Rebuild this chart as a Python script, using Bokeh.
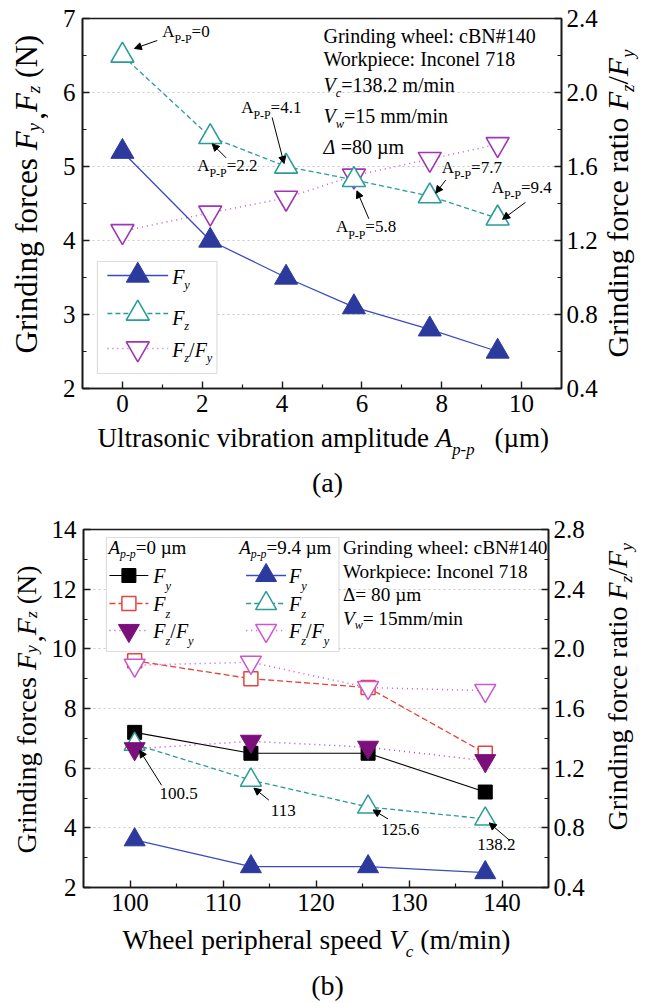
import math

from bokeh.embed import file_html
from bokeh.layouts import column, row
from bokeh.models import (Arrow, BoxAnnotation, FixedTicker, Label, LinearAxis,
                          NormalHead, NumeralTickFormatter, Range1d)
from bokeh.plotting import figure
from bokeh.resources import INLINE

# ---------------- panel (a): force vs. vibration amplitude ----------------
amp = [0, 2.2, 4.1, 5.8, 7.7, 9.4]
fy_a = [5.2, 4.0, 3.5, 3.1, 2.8, 2.5]
fz_a = [6.5, 5.4, 5.0, 4.82, 4.6, 4.3]
ratio_a = [1.25, 1.35, 1.43, 1.55, 1.64, 1.72]
amp_labels = ["0", "2.2", "4.1", "5.8", "7.7", "9.4"]

# ---------------- panel (b): force vs. wheel speed ----------------
vc = [100.5, 113, 125.6, 138.2]
fy_b0 = [7.2, 6.5, 6.5, 5.2]
fz_b0 = [9.6, 9.0, 8.7, 6.5]
ratio_b0 = [1.33, 1.38, 1.34, 1.25]
fy_b9 = [3.6, 2.7, 2.7, 2.5]
fz_b9 = [6.8, 5.6, 4.7, 4.3]
ratio_b9 = [1.89, 1.91, 1.74, 1.72]
vc_labels = ["100.5", "113", "125.6", "138.2"]

# axis ticks
xt_a, xm_a = [0, 2, 4, 6, 8, 10], [1, 3, 5, 7, 9]
yt_a, ym_a = [2, 3, 4, 5, 6, 7], [2.5, 3.5, 4.5, 5.5, 6.5]
rt_a, rm_a = [0.4, 0.8, 1.2, 1.6, 2.0, 2.4], [0.6, 1.0, 1.4, 1.8, 2.2]
xt_b, xm_b = [100, 110, 120, 130, 140], [105, 115, 125, 135]
yt_b, ym_b = [2, 4, 6, 8, 10, 12, 14], [3, 5, 7, 9, 11, 13]
rt_b, rm_b = [0.4, 0.8, 1.2, 1.6, 2.0, 2.4, 2.8], [0.6, 1.0, 1.4, 1.8, 2.2, 2.6]

SERIF = "Liberation Serif"
DESCENT = 0.216          # font descent, in em, used to sit runs on their baseline
INK = "#1a1a1a"
BLUE, BLUE_LINE = "#2B3A9C", "#3A4BBE"
TEAL = "#2A9D99"
PURPLE_OPEN, PURPLE_LINE = "#A035B5", "#C45CD2"
RED = "#E8433A"
PLUM = "#7B0F7B"
MAGENTA = "#CC55D0"

PAGE_W = 651
STRIP_L = 48      # strip holding the left axis title
STRIP_R = 51      # strip holding the right axis title
MAIN_W = PAGE_W - STRIP_L - STRIP_R

# frame geometry of each panel (page pixels) and its data ranges
PA = dict(page_top=0, main_bottom=422, page_bottom=500, left=82, right=563, top=18,
          bottom=388, x=(-1, 11), y=(2, 7), ry=(0.4, 2.4))
PB = dict(page_top=500, main_bottom=921, page_bottom=1003, left=82, right=548, top=529,
          bottom=887, x=(95, 145), y=(2, 14), ry=(0.4, 2.8))

# Times-compatible advance widths (per 1000 em) for laying out mixed runs
W_REG = {' ': 250, '!': 333, '#': 500, '(': 333, ')': 333, ',': 250, '-': 333, '.': 250,
         '/': 278, ':': 278, '=': 564, 'A': 722, 'B': 667, 'C': 667, 'D': 722, 'E': 611,
         'F': 556, 'G': 722, 'H': 722, 'I': 333, 'M': 889, 'N': 722, 'P': 556, 'U': 722,
         'V': 722, 'W': 944, 'a': 444, 'b': 500, 'c': 444, 'd': 500, 'e': 444, 'f': 333,
         'g': 500, 'h': 500, 'i': 278, 'k': 500, 'l': 278, 'm': 778, 'n': 500, 'o': 500,
         'p': 500, 'r': 333, 's': 389, 't': 278, 'u': 500, 'v': 500, 'w': 722, 'y': 500,
         'z': 444, 'µ': 500, 'Δ': 612}
for _d in "0123456789":
    W_REG[_d] = 500
W_IT = {'A': 611, 'F': 611, 'V': 611, 'c': 444, 'p': 500, 'w': 667, 'y': 444, 'z': 389,
        '-': 333, 'Δ': 612}


def text_width(s, size, italic=False):
    total = 0
    for ch in s:
        w = W_IT.get(ch) if italic else None
        total += w if w is not None else W_REG.get(ch, 500)
    return total * size / 1000.0


def frame_map(P):
    """page pixel -> data coordinates of the panel's main frame"""
    x0, x1 = P["x"]
    y0, y1 = P["y"]

    def f(px, py):
        x = x0 + (px - P["left"]) * (x1 - x0) / (P["right"] - P["left"])
        y = y0 + (P["bottom"] - py) * (y1 - y0) / (P["bottom"] - P["top"])
        return x, y
    return f


def identity_map(px, py):
    return px, py


def to_page(P, x, y):
    x0, x1 = P["x"]
    y0, y1 = P["y"]
    px = P["left"] + (x - x0) * (P["right"] - P["left"]) / (x1 - x0)
    py = P["bottom"] - (y - y0) * (P["bottom"] - P["top"]) / (y1 - y0)
    return px, py


def rich(p, m, runs, px, py, size, rotated=False, sub_scale=0.62, sub_drop=0.28,
         color="black"):
    """Place normal / italic / subscript pieces along a baseline starting at (px, py)."""
    adv = 0.0
    for text, kind in runs:
        if kind == "gap":
            adv += text
            continue
        sub = kind in ("s", "si")
        ital = kind in ("i", "si")
        fs = size * sub_scale if sub else size
        # leading blanks are turned into an explicit advance (SVG drops them)
        body = text.lstrip(" ")
        adv += text_width(text[:len(text) - len(body)], fs, ital)
        down = (size * sub_drop if sub else 0.0) + DESCENT * fs
        if rotated:
            qx, qy = px + down, py - adv
        else:
            qx, qy = px + adv, py + down
        x, y = m(qx, qy)
        p.add_layout(Label(x=x, y=y, text=body, angle=math.pi / 2 if rotated else 0.0,
                           text_font=SERIF, text_font_size=f"{fs:.1f}px",
                           text_font_style="italic" if ital else "normal",
                           text_color=color, text_baseline="bottom",
                           text_align="left"))
        adv += text_width(body, fs, ital)


def centered(p, m, text, px, py, size):
    x, y = m(px, py + DESCENT * size)
    p.add_layout(Label(x=x, y=y, text=text, text_font=SERIF,
                       text_font_size=f"{size}px", text_align="center",
                       text_baseline="bottom", text_color="black"))


def arrow(p, m, tail, head):
    xs, ys = m(*tail)
    xe, ye = m(*head)
    p.add_layout(Arrow(end=NormalHead(size=7, line_color="black", fill_color="black",
                                      line_width=1),
                       x_start=xs, y_start=ys, x_end=xe, y_end=ye,
                       line_color="black", line_width=1))


def strip(x0, x1, y0, y1):
    """An axis-less canvas whose data coordinates are page pixels (y downwards)."""
    p = figure(width=x1 - x0, height=y1 - y0, x_range=Range1d(x0, x1),
               y_range=Range1d(y1, y0), min_border=0, output_backend="svg",
               toolbar_location=None, x_axis_location=None, y_axis_location=None,
               frame_align=False)
    for g in p.grid:
        g.visible = False
    p.outline_line_color = None
    p.background_fill_color = "white"
    p.border_fill_color = "white"
    return p


def make_main(P, xt, xm, yt, ym, rt, rm, tick_px):
    p = figure(width=MAIN_W, height=P["main_bottom"] - P["page_top"],
               x_range=Range1d(*P["x"]), y_range=Range1d(*P["y"]),
               output_backend="svg", toolbar_location=None, frame_align=False,
               min_border_left=P["left"] - STRIP_L,
               min_border_right=STRIP_L + MAIN_W - P["right"],
               min_border_top=P["top"] - P["page_top"],
               min_border_bottom=P["main_bottom"] - P["bottom"])
    p.extra_y_ranges = {"ratio": Range1d(*P["ry"])}
    raxis = LinearAxis(y_range_name="ratio")
    p.add_layout(raxis, "right")

    bx, ly = p.below[0], p.left[0]
    bx.ticker = FixedTicker(ticks=xt, minor_ticks=xm)
    ly.ticker = FixedTicker(ticks=yt, minor_ticks=ym)
    raxis.ticker = FixedTicker(ticks=rt, minor_ticks=rm)
    bx.formatter = NumeralTickFormatter(format="0")
    ly.formatter = NumeralTickFormatter(format="0")
    raxis.formatter = NumeralTickFormatter(format="0.0")
    for ax in (bx, ly, raxis):
        ax.axis_label = None
        ax.axis_label_standoff = 0
        ax.axis_line_color = INK
        ax.axis_line_width = 1.6
        ax.major_tick_in, ax.major_tick_out = 7, 0
        ax.minor_tick_in, ax.minor_tick_out = 4, 0
        ax.major_tick_line_color = INK
        ax.minor_tick_line_color = INK
        ax.major_tick_line_width = 1.4
        ax.minor_tick_line_width = 1.2
        ax.major_label_text_font = SERIF
        ax.major_label_text_font_size = f"{tick_px}px"
        ax.major_label_text_color = "black"
    bx.major_label_standoff = 6
    ly.major_label_standoff = 7
    raxis.major_label_standoff = 5

    p.xgrid.visible = False
    p.ygrid.ticker = FixedTicker(ticks=yt)
    p.ygrid.grid_line_color = "#C9C9C9"
    p.ygrid.grid_line_dash = "2 3"
    p.ygrid.grid_line_width = 1
    p.outline_line_color = INK
    p.outline_line_width = 1.6
    p.background_fill_color = "white"
    p.border_fill_color = "white"
    return p


def legend_box(p, m, left, top, right, bottom):
    x0, y0 = m(left, bottom)
    x1, y1 = m(right, top)
    p.add_layout(BoxAnnotation(left=x0, right=x1, bottom=y0, top=y1, level="underlay",
                               fill_color="white", fill_alpha=1.0,
                               line_color="#8E8E8E", line_width=1.2))


def legend_key(p, m, x_from, x_to, y, line_kw, marker_kw):
    xa, ya = m(x_from, y)
    xb, _ = m(x_to, y)
    p.line([xa, xb], [ya, ya], **line_kw)
    p.scatter([(xa + xb) / 2], [ya], **marker_kw)


def side_strips(P):
    left = strip(0, STRIP_L, P["page_top"], P["main_bottom"])
    right = strip(STRIP_L + MAIN_W, PAGE_W, P["page_top"], P["main_bottom"])
    below = strip(0, PAGE_W, P["main_bottom"], P["page_bottom"])
    return left, right, below


# ======================= panel (a) =======================
pa = make_main(PA, xt_a, xm_a, yt_a, ym_a, rt_a, rm_a, 25)
ma = frame_map(PA)
la, ra, ba = side_strips(PA)

fy_line = dict(line_color=BLUE_LINE, line_width=1.3)
fy_mark = dict(marker="triangle", size=23, fill_color=BLUE, line_color=BLUE)
fz_line = dict(line_color=TEAL, line_width=1.3, line_dash="5 3")
fz_mark = dict(marker="triangle", size=23, fill_color="white", line_color=TEAL, line_width=1.6)
ra_line = dict(line_color=PURPLE_LINE, line_width=1.5, line_dash="1 4")
ra_mark = dict(marker="inverted_triangle", size=23, fill_color="white",
               line_color=PURPLE_OPEN, line_width=1.6)

pa.line(amp, ratio_a, y_range_name="ratio", **ra_line)
pa.scatter(amp, ratio_a, y_range_name="ratio", **ra_mark)
pa.line(amp, fz_a, **fz_line)
pa.scatter(amp, fz_a, **fz_mark)
pa.line(amp, fy_a, **fy_line)
pa.scatter(amp, fy_a, **fy_mark)

# legend
legend_box(pa, ma, 97, 261, 217, 373)
legend_key(pa, ma, 107, 168, 275, fy_line, fy_mark)
legend_key(pa, ma, 107, 168, 313, fz_line, fz_mark)
legend_key(pa, ma, 107, 168, 348, ra_line, ra_mark)
rich(pa, ma, [("F", "i"), ("y", "si")], 172, 283, 20)
rich(pa, ma, [("F", "i"), ("z", "si")], 172, 324, 20)
rich(pa, ma, [("F", "i"), ("z", "si"), ("/", "n"), ("F", "i"), ("y", "si")], 172, 356, 20)

# conditions
rich(pa, ma, [("Grinding wheel: cBN#140", "n")], 324, 42, 20)
rich(pa, ma, [("Workpiece: Inconel 718", "n")], 324, 65, 20)
rich(pa, ma, [("V", "i"), ("c", "si"), ("=138.2 m/min", "n")], 324, 91, 20)
rich(pa, ma, [("V", "i"), ("w", "si"), ("=15 mm/min", "n")], 324, 122, 20)
rich(pa, ma, [("Δ", "i"), (" =80 µm", "n")], 324, 153, 20)

# amplitude call-outs on the F_z points: text / arrow-tail / arrow-head offsets (px)
call_a = [(40, -18, 35, -15, 12, -7),
          (-13, 34, 16, 21, 2, 7),
          (-45, -53, -14, -49, -2, -3),
          (-18, 53, 15, 39, 3, 11),
          (12, -23, 16, -16, 6, -3),
          (-6, -25, 28, -16, 5, 1)]
for xv, yv, lab, (tdx, tdy, adx, ady, hdx, hdy) in zip(amp, fz_a, amp_labels, call_a):
    mx, my = to_page(PA, xv, yv)
    rich(pa, ma, [("A", "n"), ("P-P", "s"), ("=" + lab, "n")], mx + tdx, my + tdy, 17,
         sub_scale=0.7, sub_drop=0.36)
    arrow(pa, ma, (mx + adx, my + ady), (mx + hdx, my + hdy))

# axis titles and caption
rich(ba, identity_map, [("Ultrasonic vibration amplitude ", "n"), ("A", "i"),
                        ("p-p", "si"), (20, "gap"), ("(µm)", "n")], 97, 447, 27)
rich(la, identity_map, [("Grinding forces ", "n"), ("F", "i"), ("y", "si"), (3, "gap"),
                        (",", "n"), ("F", "i"), ("z", "si"), (" (N)", "n")],
     37, 353, 31, rotated=True, sub_drop=0.08)
rich(ra, identity_map, [("Grinding force ratio ", "n"), ("F", "i"), ("z", "si"),
                        ("/", "n"), ("F", "i"), ("y", "si")], 627, 357, 30, rotated=True,
     sub_drop=0.2)
centered(ba, identity_map, "(a)", 327, 491, 28)

# ======================= panel (b) =======================
pb = make_main(PB, xt_b, xm_b, yt_b, ym_b, rt_b, rm_b, 25)
mb = frame_map(PB)
lb, rb, bb = side_strips(PB)

b0_fy_line = dict(line_color="black", line_width=1.1)
b0_fy_mark = dict(marker="square", size=14, fill_color="black", line_color="black")
b0_fz_line = dict(line_color=RED, line_width=1.3, line_dash="6 3")
b0_fz_mark = dict(marker="square", size=14, fill_color="white", line_color=RED, line_width=1.5)
b0_ra_line = dict(line_color="#B845C0", line_width=1.5, line_dash="1 4")
b0_ra_mark = dict(marker="inverted_triangle", size=21, fill_color=PLUM, line_color=PLUM)
b9_fy_line = dict(line_color=BLUE_LINE, line_width=1.3)
b9_fy_mark = dict(marker="triangle", size=21, fill_color=BLUE, line_color=BLUE)
b9_fz_line = dict(line_color=TEAL, line_width=1.3, line_dash="5 3")
b9_fz_mark = dict(marker="triangle", size=21, fill_color="white", line_color=TEAL, line_width=1.5)
b9_ra_line = dict(line_color=MAGENTA, line_width=1.5, line_dash="1 4")
b9_ra_mark = dict(marker="inverted_triangle", size=21, fill_color="white",
                  line_color=MAGENTA, line_width=1.5)

pb.line(vc, fy_b0, **b0_fy_line)
pb.scatter(vc, fy_b0, **b0_fy_mark)
pb.line(vc, fz_b0, **b0_fz_line)
pb.scatter(vc, fz_b0, **b0_fz_mark)
pb.line(vc, fy_b9, **b9_fy_line)
pb.scatter(vc, fy_b9, **b9_fy_mark)
pb.line(vc, fz_b9, **b9_fz_line)
pb.scatter(vc, fz_b9, **b9_fz_mark)
pb.line(vc, ratio_b0, y_range_name="ratio", **b0_ra_line)
pb.scatter(vc, ratio_b0, y_range_name="ratio", **b0_ra_mark)
pb.line(vc, ratio_b9, y_range_name="ratio", **b9_ra_line)
pb.scatter(vc, ratio_b9, y_range_name="ratio", **b9_ra_mark)

# legend
legend_box(pb, mb, 105, 537, 338, 651)
rich(pb, mb, [("A", "i"), ("p-p", "si"), ("=0 µm", "n")], 107, 553, 19)
rich(pb, mb, [("A", "i"), ("p-p", "si"), ("=9.4 µm", "n")], 238, 553, 19)
rows = [(575, b0_fy_line, b0_fy_mark, b9_fy_line, b9_fy_mark, "y"),
        (603, b0_fz_line, b0_fz_mark, b9_fz_line, b9_fz_mark, "z"),
        (630, b0_ra_line, b0_ra_mark, b9_ra_line, b9_ra_mark, "r")]
for ry, l0, m0, l9, m9, kind in rows:
    legend_key(pb, mb, 108, 147, ry, l0, m0)
    legend_key(pb, mb, 245, 285, ry, l9, m9)
    if kind == "r":
        runs = [("F", "i"), ("z", "si"), ("/", "n"), ("F", "i"), ("y", "si")]
    else:
        runs = [("F", "i"), (kind, "si")]
    rich(pb, mb, runs, 152, ry + 7, 20, sub_drop=0.4)
    rich(pb, mb, runs, 288, ry + 7, 20, sub_drop=0.4)

# conditions
rich(pb, mb, [("Grinding wheel: cBN#140", "n")], 342, 553, 19.3)
rich(pb, mb, [("Workpiece: Inconel 718", "n")], 342, 577, 19.3)
rich(pb, mb, [("Δ= 80 µm", "n")], 342, 600, 19.3)
rich(pb, mb, [("V", "i"), ("w", "si"), ("= 15mm/min", "n")], 342, 624, 19.3)

# wheel-speed call-outs on the A=9.4 F_z points
call_b = [(25, 51, 27, 41, 5, 6),
          (20, 32, 18, 20, 3, 8),
          (13, 24, 20, 12, 5, 3),
          (-8, 27, 25, 22, 4, 4)]
for xv, yv, lab, (tdx, tdy, adx, ady, hdx, hdy) in zip(vc, fz_b9, vc_labels, call_b):
    mx, my = to_page(PB, xv, yv)
    rich(pb, mb, [(lab, "n")], mx + tdx, my + tdy, 17)
    arrow(pb, mb, (mx + adx, my + ady), (mx + hdx, my + hdy))

# axis titles and caption
rich(bb, identity_map, [("Wheel peripheral speed ", "n"), ("V", "i"), ("c", "si"),
                        (" (m/min)", "n")], 122, 949, 27.5)
rich(lb, identity_map, [("Grinding forces ", "n"), ("F", "i"), ("y", "si"), (3, "gap"),
                        (",", "n"), ("F", "i"), ("z", "si"), (" (N)", "n")],
     35, 853, 28, rotated=True, sub_drop=0.08)
rich(rb, identity_map, [("Grinding force ratio ", "n"), ("F", "i"), ("z", "si"),
                        ("/", "n"), ("F", "i"), ("y", "si")], 626, 830, 28, rotated=True,
     sub_drop=0.2)
centered(bb, identity_map, "(b)", 327, 994, 28)

layout = column(
    row(la, pa, ra, spacing=0),
    ba,
    row(lb, pb, rb, spacing=0),
    bb,
    spacing=0,
)
open("out.html", "w").write(file_html(layout, INLINE))
